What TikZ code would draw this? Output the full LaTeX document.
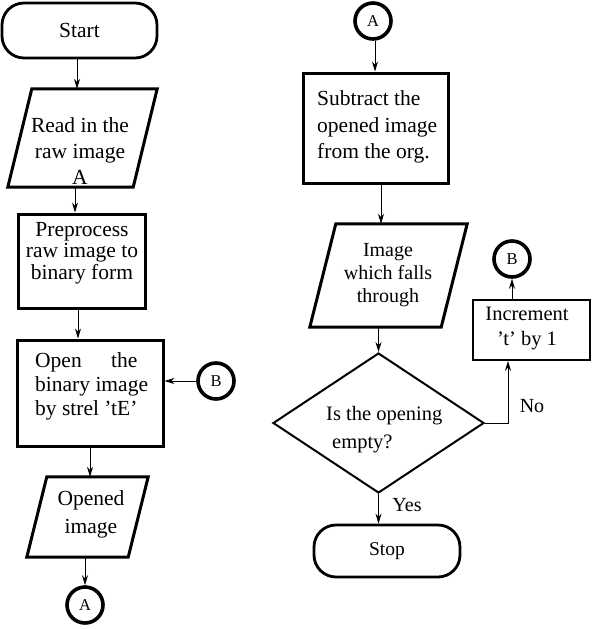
\documentclass[tikz,border=0pt]{standalone}
\usepackage{fontspec}
\setmainfont{Liberation Serif}
\usetikzlibrary{shapes.geometric,arrows.meta}
\begin{document}
\begin{tikzpicture}[x=1pt,y=-1pt,
  thickbox/.style={draw,line width=3pt,rectangle,inner sep=0pt},
  thinbox/.style={draw,line width=1.8pt,rectangle,inner sep=0pt},
  term/.style={draw,line width=2.8pt,rectangle,rounded corners=22pt,inner sep=0pt},
  paranode/.style={rectangle,inner sep=0pt},
  paraline/.style={line width=3pt,line join=miter},
  conn/.style={draw,line width=3.6pt,circle,inner sep=0pt,minimum size=36pt,font=\fontsize{16.5}{16.5}\selectfont},
  dec/.style={draw,line width=2pt,diamond,inner sep=0pt},
  txt/.style={font=\fontsize{21.5}{25}\selectfont,align=center,inner sep=0pt},
  arr/.style={line width=0.8pt,-{Stealth[length=10pt,width=6pt]}},
  lbl/.style={font=\fontsize{20}{24}\selectfont,inner sep=0pt}]
\useasboundingbox (0,0) rectangle (593,629);
% column guides
\coordinate (c77) at (77,0);
\coordinate (c75) at (75,0);
\coordinate (c78) at (78,0);
\coordinate (c90) at (90,0);
\coordinate (c85) at (85,0);
\coordinate (c375) at (375,0);
\coordinate (c381) at (381,0);
\coordinate (c508) at (508,0);
% left column
\node[term,txt,minimum width=155,minimum height=55] (start) at (79.5,30.5) {Start};
\node[paranode,minimum width=149,minimum height=98] (read) at (82.5,138) {};
\draw[paraline] ([xshift=24pt]read.north west) -- (read.north east) -- ([xshift=-24pt]read.south east) -- (read.south west) -- cycle;
\node[txt,font=\fontsize{21.5}{26}\selectfont] (readtxt) at (80,151) {Read in the\\raw image\\A};
\node[thickbox,minimum width=127,minimum height=94] (pre) at (81.5,261) {};
\node[txt,font=\fontsize{21.5}{21.5}\selectfont] (pretxt) at (82,253) {Preprocess\\raw image to\\binary form};
\node[thickbox,minimum width=146,minimum height=106] (open) at (90,393) {};
\node[txt,align=left,anchor=west,font=\fontsize{21.5}{24}\selectfont] (opentxt) at (35,386) {\makebox[4.75em][l]{Open\hfill the}\\binary image\\by strel 'tE'};
\node[conn] (bl) at (216,381) {B};
\node[paranode,minimum width=121,minimum height=80] (opened) at (87.5,517) {};
\draw[paraline] ([xshift=20pt]opened.north west) -- (opened.north east) -- ([xshift=-20pt]opened.south east) -- (opened.south west) -- cycle;
\node[txt,font=\fontsize{21.5}{28}\selectfont] (openedtxt) at (91,514) {Opened\\image};
\node[conn] (abot) at (85,605) {A};
% right column
\node[conn] (atop) at (373,21) {A};
\node[thickbox,minimum width=145,minimum height=110] (sub) at (375.5,128) {};
\node[txt,align=left,anchor=west,font=\fontsize{21.5}{26.5}\selectfont] (subtxt) at (317,127) {Subtract the\\opened image\\from the org.};
\node[paranode,minimum width=157,minimum height=103] (img) at (388.5,275.5) {};
\draw[paraline] ([xshift=26pt]img.north west) -- (img.north east) -- ([xshift=-26pt]img.south east) -- (img.south west) -- cycle;
\node[txt,font=\fontsize{20}{23}\selectfont] (imgtxt) at (388,275) {Image\\which falls\\through};
\node[dec,minimum width=211,minimum height=140] (dia) at (378.5,423) {};
\node[txt,align=left,anchor=west,font=\fontsize{20.5}{28}\selectfont] (diatxt) at (326,430) {Is the opening\\\hspace*{6pt}empty?};
\node[thinbox,minimum width=117,minimum height=60] (inc) at (531.5,330) {};
\node[txt,font=\fontsize{20.5}{25}\selectfont] (inctxt) at (527,328) {Increment\\'t' by 1};
\node[conn] (br) at (512,259) {B};
\node[term,txt,font=\fontsize{19.5}{20}\selectfont,minimum width=146,minimum height=52] (stop) at (387,551) {Stop};
\node[lbl] (no) at (532,406) {No};
\node[lbl] (yes) at (407,505) {Yes};
% connectors
\draw[arr] (start.south -| c77) -- (read.north -| c77);
\draw[arr] (read.south -| c75) -- (pre.north -| c75);
\draw[arr] (pre.south -| c78) -- (open.north -| c78);
\draw[arr] (bl.west) -- (bl.west -| open.east);
\draw[arr] (open.south -| c90) -- (opened.north -| c90);
\draw[arr] (opened.south -| c85) -- (abot.north);
\draw[arr] (atop.south -| c375) -- (sub.north -| c375);
\draw[arr] (sub.south -| c381) -- (img.north -| c381);
\draw[arr] (img.south -| dia.north) -- (dia.north);
\draw[arr] (dia.east) -| (inc.south -| c508);
\draw[arr] (inc.north -| br.south) -- (br.south);
\draw[arr] (dia.south) -- (stop.north -| dia.south);
\end{tikzpicture}
\end{document}
